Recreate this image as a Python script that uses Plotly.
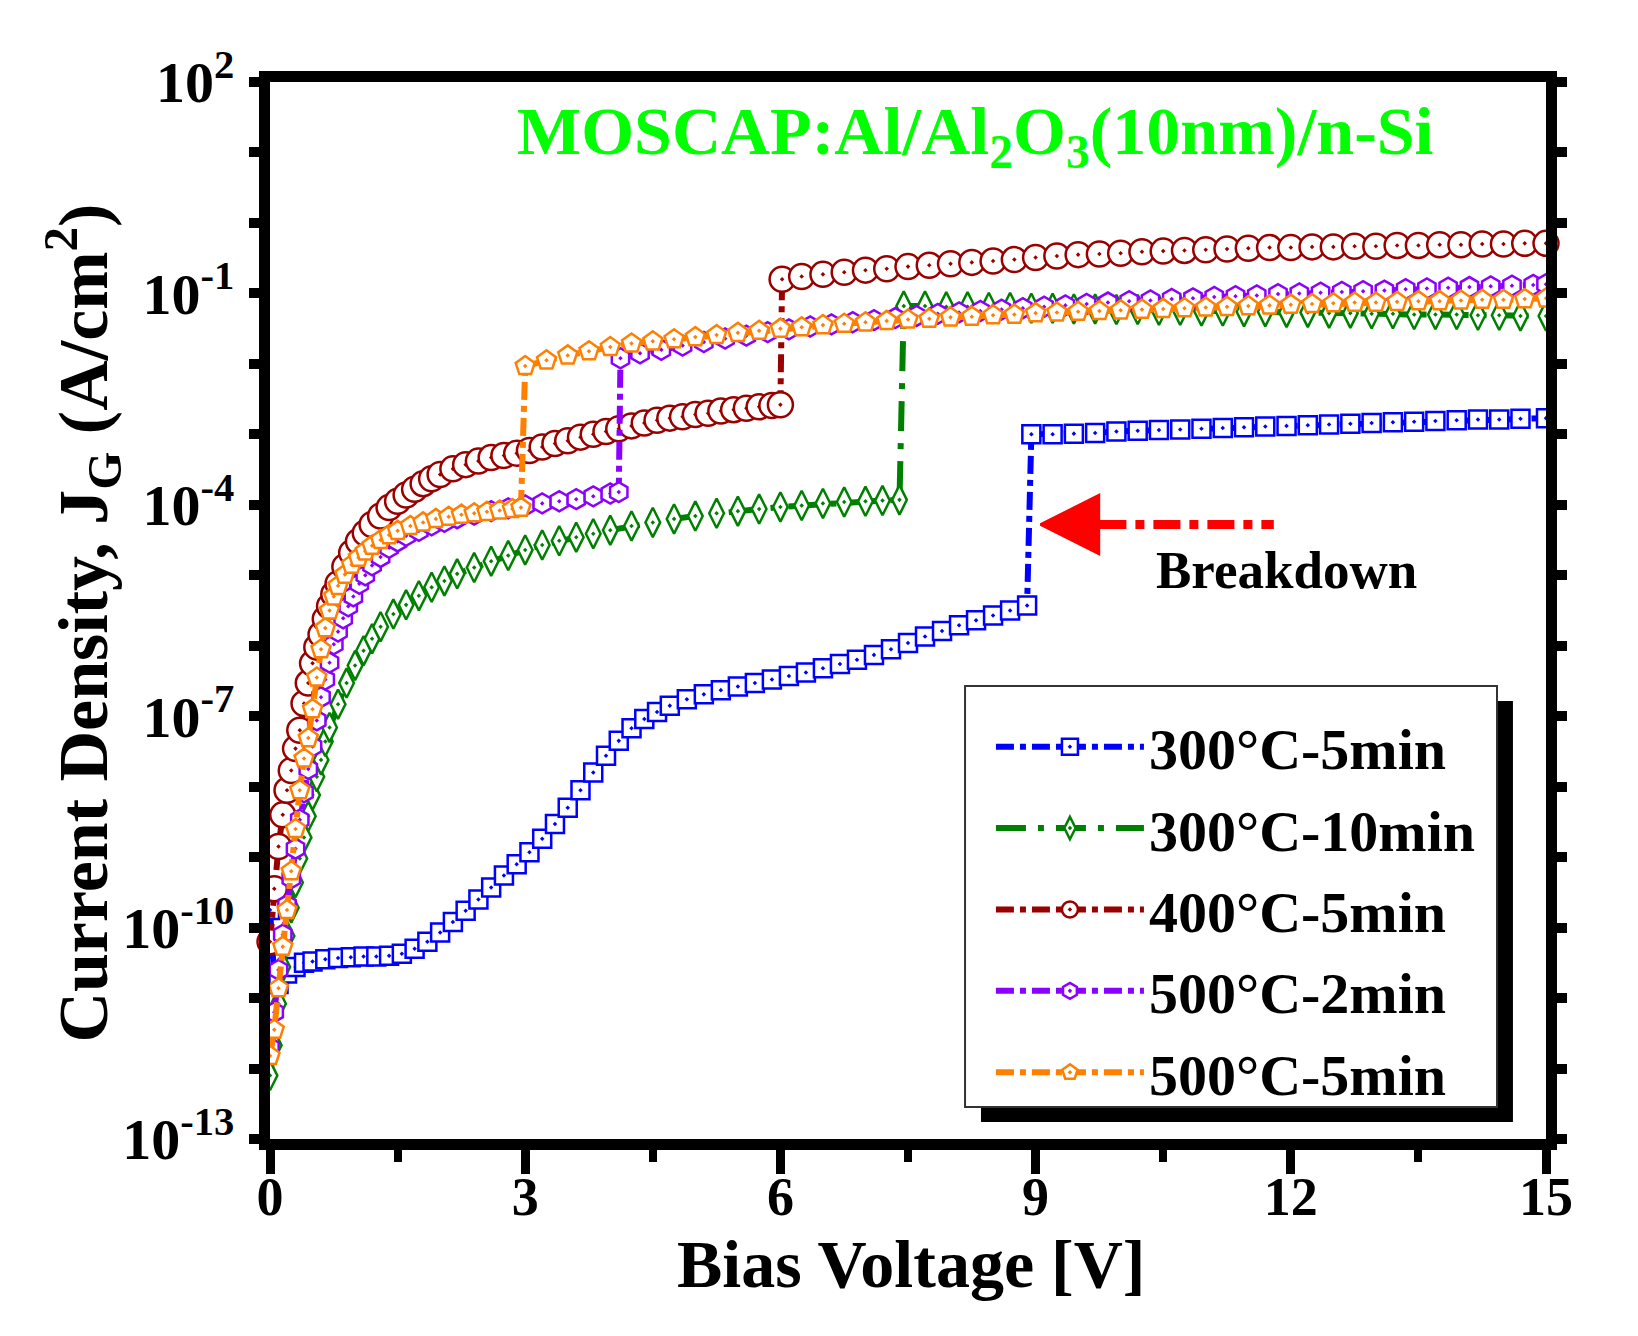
import plotly.graph_objects as go

# bias voltage [V] and log10 of gate current density JG [A/cm2]
v_300_5 = [0.0, 0.05, 0.1, 0.2, 0.3, 0.4, 0.5, 0.65, 0.8, 0.95, 1.1, 1.25, 1.4, 1.55, 1.7, 1.85, 2.0,
           2.15, 2.3, 2.45, 2.6, 2.75, 2.9, 3.05, 3.2, 3.35, 3.5, 3.65, 3.8, 3.95, 4.1, 4.25, 4.4, 4.55, 4.7,
           4.9, 5.1, 5.3, 5.5, 5.7, 5.9, 6.1, 6.3, 6.5, 6.7, 6.9, 7.1, 7.3, 7.5, 7.7, 7.9, 8.1, 8.3, 8.5, 8.7, 8.9,
           8.95, 9.2, 9.45, 9.7, 9.95, 10.2, 10.45, 10.7, 10.95, 11.2, 11.45, 11.7, 11.95, 12.2, 12.45, 12.7,
           12.95, 13.2, 13.45, 13.7, 13.95, 14.2, 14.45, 14.7, 15.0]
logj_300_5 = [-9.75, -10.7, -10.8, -10.65, -10.56, -10.5, -10.48, -10.45, -10.43, -10.42, -10.41, -10.41, -10.4,
              -10.37, -10.3, -10.2, -10.07, -9.92, -9.76, -9.6, -9.43, -9.26, -9.1, -8.93, -8.74, -8.53, -8.3,
              -8.05, -7.8, -7.56, -7.35, -7.17, -7.04, -6.94, -6.85, -6.76, -6.69, -6.63, -6.58, -6.53, -6.48,
              -6.43, -6.38, -6.32, -6.26, -6.2, -6.13, -6.05, -5.96, -5.87, -5.79, -5.71, -5.64, -5.57, -5.5, -5.43,
              -3.0, -3.0, -2.99, -2.98, -2.96, -2.95, -2.94, -2.93, -2.92, -2.91, -2.9, -2.89, -2.88, -2.87,
              -2.86, -2.85, -2.84, -2.83, -2.82, -2.81, -2.8, -2.79, -2.79, -2.78, -2.77]

v_300_10 = [0.0, 0.05, 0.1, 0.15, 0.2, 0.25, 0.3, 0.35, 0.4, 0.45, 0.5, 0.55, 0.6, 0.65, 0.7, 0.8, 0.9, 1.0,
            1.1, 1.2, 1.3, 1.45, 1.6, 1.75, 1.9, 2.05, 2.2, 2.4, 2.6, 2.8, 3.0, 3.2, 3.4, 3.6, 3.8, 4.0, 4.25,
            4.5, 4.75, 5.0, 5.25, 5.5, 5.75, 6.0, 6.25, 6.5, 6.75, 7.0, 7.2, 7.4,
            7.45, 7.7, 7.95, 8.2, 8.45, 8.7, 8.95, 9.2, 9.45, 9.7, 9.95, 10.2, 10.45, 10.7, 10.95, 11.2, 11.45,
            11.7, 11.95, 12.2, 12.45, 12.7, 12.95, 13.2, 13.45, 13.7, 13.95, 14.2, 14.45, 14.7, 15.0]
logj_300_10 = [-12.1, -11.67, -11.08, -10.56, -10.12, -9.72, -9.36, -9.02, -8.72, -8.42, -8.12, -7.86, -7.62,
               -7.36, -7.16, -6.83, -6.53, -6.28, -6.07, -5.9, -5.73, -5.55, -5.42, -5.29, -5.17, -5.08, -4.98,
               -4.89, -4.8, -4.72, -4.64, -4.57, -4.51, -4.46, -4.41, -4.36, -4.3, -4.25, -4.2, -4.16, -4.12,
               -4.09, -4.06, -4.03, -4.01, -3.98, -3.96, -3.95, -3.94, -3.93,
               -1.18, -1.18, -1.19, -1.19, -1.2, -1.2, -1.21, -1.21, -1.22, -1.22, -1.23, -1.23, -1.24, -1.24,
               -1.25, -1.25, -1.26, -1.26, -1.27, -1.27, -1.28, -1.28, -1.29, -1.29, -1.3, -1.3, -1.3, -1.31,
               -1.31, -1.32, -1.32]

v_400_5 = [0.0, 0.05, 0.1, 0.15, 0.2, 0.25, 0.3, 0.35, 0.4, 0.45, 0.5, 0.55, 0.6, 0.65, 0.7, 0.75, 0.8, 0.88,
           0.96, 1.04, 1.12, 1.2, 1.3, 1.4, 1.5, 1.6, 1.7, 1.8, 1.9, 2.0, 2.15, 2.3, 2.45, 2.6, 2.75, 2.9, 3.05,
           3.2, 3.35, 3.5, 3.65, 3.8, 3.95, 4.1, 4.25, 4.4, 4.55, 4.7, 4.85, 5.0, 5.15, 5.3, 5.45, 5.6, 5.75,
           5.9, 6.0,
           6.02, 6.25, 6.5, 6.75, 7.0, 7.25, 7.5, 7.75, 8.0, 8.25, 8.5, 8.75, 9.0, 9.25, 9.5, 9.75, 10.0, 10.25,
           10.5, 10.75, 11.0, 11.25, 11.5, 11.75, 12.0, 12.25, 12.5, 12.75, 13.0, 13.25, 13.5, 13.75, 14.0,
           14.25, 14.5, 14.75, 15.0]
logj_400_5 = [-10.2, -9.45, -8.85, -8.4, -8.05, -7.77, -7.46, -7.2, -6.82, -6.53, -6.25, -6.02, -5.84, -5.62,
              -5.44, -5.27, -5.12, -4.88, -4.68, -4.52, -4.4, -4.28, -4.16, -4.04, -3.95, -3.86, -3.78, -3.7,
              -3.63, -3.57, -3.49, -3.43, -3.38, -3.33, -3.3, -3.27, -3.23, -3.18, -3.13, -3.09, -3.04, -3.0,
              -2.96, -2.92, -2.88, -2.84, -2.8, -2.77, -2.75, -2.72, -2.7, -2.67, -2.65, -2.63, -2.61, -2.59, -2.58,
              -0.8, -0.76, -0.73, -0.7, -0.67, -0.65, -0.62, -0.6, -0.58, -0.56, -0.54, -0.52, -0.49, -0.47,
              -0.45, -0.44, -0.43, -0.41, -0.4, -0.39, -0.38, -0.37, -0.36, -0.35, -0.35, -0.34, -0.34, -0.33,
              -0.33, -0.32, -0.32, -0.31, -0.31, -0.3, -0.3, -0.29, -0.29]

v_500_2 = [0.0, 0.05, 0.1, 0.15, 0.2, 0.25, 0.3, 0.35, 0.4, 0.45, 0.5, 0.55, 0.6, 0.65, 0.7, 0.75, 0.8, 0.86,
           0.92, 0.98, 1.05, 1.12, 1.2, 1.3, 1.4, 1.5, 1.6, 1.75, 1.9, 2.05, 2.2, 2.4, 2.6, 2.8, 3.0, 3.2, 3.4,
           3.6, 3.8, 4.0, 4.1,
           4.12, 4.35, 4.6, 4.85, 5.1, 5.35, 5.6, 5.85, 6.1, 6.35, 6.6, 6.85, 7.1, 7.35, 7.6, 7.85, 8.1, 8.35,
           8.6, 8.85, 9.1, 9.35, 9.6, 9.85, 10.1, 10.35, 10.6, 10.85, 11.1, 11.35, 11.6, 11.85, 12.1, 12.35,
           12.6, 12.85, 13.1, 13.35, 13.6, 13.85, 14.1, 14.35, 14.6, 14.85, 15.0]
logj_500_2 = [-11.7, -11.2, -10.6, -10.1, -9.68, -9.3, -8.88, -8.47, -8.08, -7.75, -7.43, -7.06, -6.73, -6.48,
              -6.24, -5.98, -5.8, -5.61, -5.44, -5.3, -5.12, -5.0, -4.86, -4.74, -4.61, -4.52, -4.44, -4.37,
              -4.29, -4.24, -4.19, -4.14, -4.09, -4.05, -4.01, -3.98, -3.95, -3.92, -3.88, -3.84, -3.82,
              -1.92, -1.85, -1.8, -1.74, -1.69, -1.64, -1.6, -1.55, -1.51, -1.47, -1.44, -1.41, -1.38, -1.35,
              -1.32, -1.29, -1.27, -1.25, -1.23, -1.21, -1.19, -1.17, -1.15, -1.13, -1.11, -1.1, -1.08, -1.07,
              -1.05, -1.04, -1.03, -1.01, -1.0, -0.99, -0.98, -0.97, -0.96, -0.94, -0.93, -0.92, -0.91, -0.9,
              -0.89, -0.88, -0.87]

v_500_5 = [0.0, 0.05, 0.1, 0.15, 0.2, 0.25, 0.3, 0.35, 0.4, 0.45, 0.5, 0.55, 0.6, 0.65, 0.7, 0.75, 0.8, 0.88,
           0.96, 1.04, 1.12, 1.2, 1.3, 1.4, 1.5, 1.65, 1.8, 1.95, 2.1, 2.25, 2.4, 2.55, 2.7, 2.85, 2.95,
           3.0, 3.25, 3.5, 3.75, 4.0, 4.25, 4.5, 4.75, 5.0, 5.25, 5.5, 5.75, 6.0, 6.25, 6.5, 6.75, 7.0, 7.25,
           7.5, 7.75, 8.0, 8.25, 8.5, 8.75, 9.0, 9.25, 9.5, 9.75, 10.0, 10.25, 10.5, 10.75, 11.0, 11.25, 11.5,
           11.75, 12.0, 12.25, 12.5, 12.75, 13.0, 13.25, 13.5, 13.75, 14.0, 14.25, 14.5, 14.75, 15.0]
logj_500_5 = [-11.82, -11.45, -10.86, -10.27, -9.75, -9.2, -8.6, -8.05, -7.6, -7.31, -6.9, -6.45, -6.05, -5.75,
              -5.5, -5.3, -5.15, -4.99, -4.85, -4.75, -4.66, -4.58, -4.5, -4.43, -4.37, -4.3, -4.25, -4.2, -4.17,
              -4.14, -4.12, -4.1, -4.08, -4.06, -4.04,
              -2.03, -1.95, -1.88, -1.82, -1.76, -1.71, -1.68, -1.65, -1.62, -1.59, -1.56, -1.53, -1.5, -1.48,
              -1.45, -1.43, -1.41, -1.39, -1.37, -1.36, -1.34, -1.33, -1.31, -1.3, -1.28, -1.27, -1.26, -1.25,
              -1.24, -1.23, -1.22, -1.21, -1.2, -1.19, -1.18, -1.17, -1.16, -1.15, -1.14, -1.13, -1.13, -1.12,
              -1.11, -1.11, -1.1, -1.09, -1.09, -1.08, -1.07]

# breakdown arrow (tip, tail start, tail end) and its label
arrow_v = [9.06, 9.75, 11.8]
arrow_logj = -4.28
label_v = 11.95
label_logj = -4.92

x_ticks = [0, 3, 6, 9, 12, 15]
x_minor = [1.5, 4.5, 7.5, 10.5, 13.5]
y_labelled = [2, -1, -4, -7, -10, -13]
y_other = [1, 0, -2, -3, -5, -6, -8, -9, -11, -12]

serif = "Liberation Serif, Times New Roman, serif"

series = [
    ("300°C-5min", v_300_5, logj_300_5, "#0000FF", "square-dot", 18, "dashdot"),
    ("300°C-10min", v_300_10, logj_300_10, "#008000", "diamond-tall-dot", 21, "longdashdot"),
    ("400°C-5min", v_400_5, logj_400_5, "#990000", "circle-dot", 25, "dashdot"),
    ("500°C-2min", v_500_2, logj_500_2, "#8B00FF", "hexagon-dot", 20, "dashdot"),
    ("500°C-5min", v_500_5, logj_500_5, "#FF8000", "pentagon-dot", 20, "dashdot"),
]

fig = go.Figure()
for name, v, lj, color, symbol, size, dash in series:
    assert len(v) == len(lj), name
    fig.add_trace(go.Scatter(
        x=v, y=[10 ** k for k in lj], name=name, legendgroup=name, mode="lines+markers",
        line=dict(color=color, width=6, dash=dash),
        marker=dict(symbol=symbol, size=size, color="white",
                    line=dict(color=color, width=2.5)),
        cliponaxis=False,
    ))

# breakdown arrow: dash-dot shaft and head
fig.add_trace(go.Scatter(
    x=arrow_v[1:], y=[10 ** arrow_logj] * 2, mode="lines", showlegend=False,
    line=dict(color="#FF0000", width=9, dash="dashdot"), hoverinfo="skip",
))
fig.add_trace(go.Scatter(
    x=arrow_v[:1], y=[10 ** arrow_logj], mode="markers", showlegend=False, hoverinfo="skip",
    marker=dict(symbol="arrow-left", size=58, color="#FF0000",
                line=dict(color="#FF0000", width=3)),
))

fig.add_annotation(x=label_v, y=label_logj, xref="x", yref="y", text="Breakdown",
                   showarrow=False, font=dict(family=serif, size=53, color="black", weight="bold"))

fig.add_annotation(x=0.553, y=0.949, xref="paper", yref="paper", xanchor="center", yanchor="middle",
                   showarrow=False, text="MOSCAP:Al/Al<sub>2</sub>O<sub>3</sub>(10nm)/n-Si",
                   font=dict(family=serif, size=68, color="#00FF00", weight="bold"))
fig.add_annotation(x=0.502, y=-0.118, xref="paper", yref="paper", xanchor="center", yanchor="middle",
                   showarrow=False, text="Bias Voltage [V]",
                   font=dict(family=serif, size=68, color="black", weight="bold"))
fig.add_annotation(x=-0.147, y=0.488, xref="paper", yref="paper", xanchor="center", yanchor="middle",
                   showarrow=False, textangle=-90,
                   text="Current Density, J<sub>G</sub> (A/cm<sup>2</sup>)",
                   font=dict(family=serif, size=70, color="black", weight="bold"))

# legend frame with its drop shadow
fig.add_shape(type="rect", xref="paper", yref="paper", x0=0.5572, x1=0.9741, y0=0.0161, y1=0.4144,
              fillcolor="black", line=dict(width=0), layer="above")
fig.add_shape(type="rect", xref="paper", yref="paper", x0=0.5447, x1=0.9616, y0=0.0303, y1=0.4286,
              fillcolor="white", line=dict(color="#333333", width=2), layer="above")

# the page body keeps its 8px default margin, so the figure is 8px smaller than the window
fig.update_layout(
    width=1630, height=1328,
    margin=dict(l=262, r=92, t=74, b=197),
    paper_bgcolor="white", plot_bgcolor="white",
    showlegend=True,
    legend=dict(x=0.565, y=0.413, xanchor="left", yanchor="top", bgcolor="rgba(0,0,0,0)",
                borderwidth=0, itemwidth=148, tracegroupgap=3,
                font=dict(family=serif, size=58, color="black", weight="bold")),
    xaxis=dict(range=[0, 15], tickvals=x_ticks, ticktext=[str(t) for t in x_ticks],
               showline=True, linewidth=11, linecolor="black", mirror=True,
               ticks="outside", ticklen=24, tickwidth=9, tickcolor="black",
               minor=dict(tickvals=x_minor, ticks="outside", ticklen=12, tickwidth=8, tickcolor="black"),
               showgrid=False, zeroline=False, ticklabelstandoff=-24,
               tickfont=dict(family=serif, size=54, color="black", weight="bold")),
    yaxis=dict(type="log", range=[-13, 2],
               tickvals=[10 ** k for k in y_labelled],
               ticktext=[f"10<sup>{k}</sup>" for k in y_labelled],
               showline=True, linewidth=11, linecolor="black", mirror="allticks",
               ticks="outside", ticklen=10, tickwidth=10, tickcolor="black",
               minor=dict(tickvals=[10 ** k for k in y_other],
                          ticks="outside", ticklen=10, tickwidth=10, tickcolor="black"),
               showgrid=False, zeroline=False, ticklabelstandoff=3,
               tickfont=dict(family=serif, size=58, color="black", weight="bold")),
)

fig.write_html("out.html")
